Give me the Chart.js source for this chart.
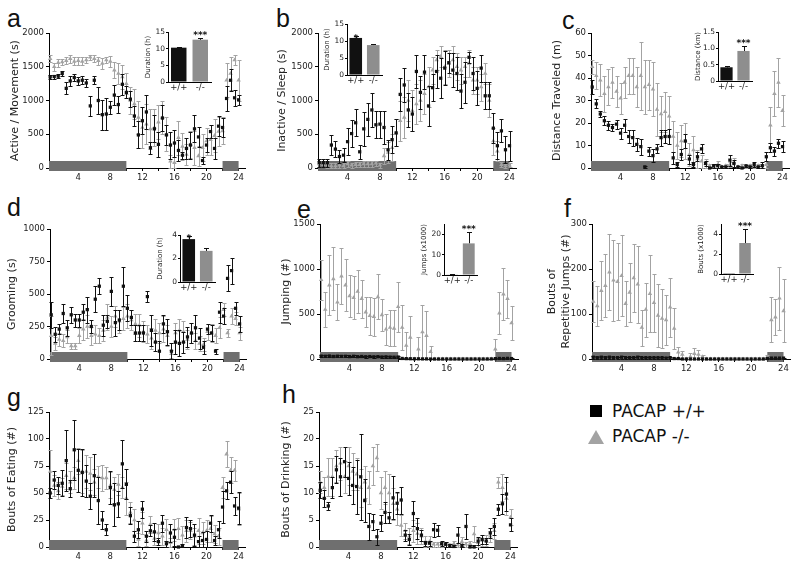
<!DOCTYPE html>
<html>
<head>
<meta charset="utf-8">
<script src="https://cdn.jsdelivr.net/npm/chart.js@4.4.1/dist/chart.umd.min.js"></script>
<style>
  body { margin: 0; width: 800px; height: 567px; position: relative; overflow: hidden; background: #fff; font-family: "DejaVu Sans", sans-serif; }
  .box { position: absolute; }
  .letter { position: absolute; font-family: "Liberation Sans", sans-serif; font-size: 25px; color: #111; line-height: 1; }
  .leg { position: absolute; font-size: 17px; color: #111; line-height: 1; }
</style>
</head>
<body>
<div class="letter" style="left:7px;top:6px">a</div>
<div class="letter" style="left:276px;top:6px">b</div>
<div class="letter" style="left:562px;top:8px">c</div>
<div class="letter" style="left:7px;top:195px">d</div>
<div class="letter" style="left:297px;top:197px">e</div>
<div class="letter" style="left:564px;top:196px">f</div>
<div class="letter" style="left:7px;top:385px">g</div>
<div class="letter" style="left:282px;top:382px">h</div>

<div style="position:absolute;left:590px;top:405px;width:12px;height:12px;background:#000"></div>
<div class="leg" style="left:612px;top:403px">PACAP +/+</div>
<div style="position:absolute;left:588px;top:430px;width:0;height:0;border-left:8px solid transparent;border-right:8px solid transparent;border-bottom:14px solid #a3a3a3"></div>
<div class="leg" style="left:612px;top:428px">PACAP -/-</div>

<script>
// half-hour bins
const HOURS = [0.5,1,1.5,2,2.5,3,3.5,4,4.5,5,5.5,6,6.5,7,7.5,8,8.5,9,9.5,10,10.5,11,11.5,12,
  12.5,13,13.5,14,14.5,15,15.5,16,16.5,17,17.5,18,18.5,19,19.5,20,20.5,21,21.5,22,22.5,23,23.5,24];
const X_TICKS = [2,4,6,8,10,12,14,16,18,20,22,24];
const DARK_PHASES = [[0,10],[22,24]];
const GENOTYPES = ['+/+', '-/-'];

// a - active / movement (s)
const A_WT = [1350,1355,1360,1400,1180,1290,1340,1290,1300,1260,920,1300,1000,790,800,900,1080,940,1240,1120,1020,770,490,700,830,300,580,350,740,490,340,370,260,190,290,340,580,460,110,340,540,290,620,600,1030,1300,1040,1010];
const A_WT_SEM = [30,30,30,30,90,80,50,60,60,60,150,60,200,220,230,100,150,130,160,90,120,150,200,200,250,90,200,190,190,150,200,200,160,50,150,200,200,150,50,100,100,150,150,140,180,160,120,70];
const A_KO = [1620,1500,1560,1570,1590,1620,1580,1590,1580,1600,1640,1620,1590,1550,1600,1580,1450,1400,1350,1250,1000,950,750,600,650,580,600,680,750,500,100,80,450,320,200,350,300,180,300,400,420,480,540,550,1300,1400,1600,1300];
const A_KO_SEM = [50,60,60,50,50,60,60,60,60,40,40,50,60,80,50,80,120,150,180,160,200,220,250,300,300,300,280,250,250,250,100,80,250,200,150,200,250,150,200,200,220,250,220,200,250,250,80,300];
const A_Y_TICKS = [0,500,1000,1500,2000];

// b - inactive / sleep (s)
const B_WT = [80,80,80,340,280,170,190,390,510,670,240,580,720,860,640,650,600,270,420,520,1090,1230,860,800,1430,1120,1420,920,1190,1430,1330,1480,1560,1450,1400,1140,1270,1640,1400,1180,1480,1070,1070,590,330,550,270,330];
const B_WT_SEM = [60,60,60,150,120,100,100,200,200,200,100,250,250,250,200,200,250,150,200,200,250,250,250,250,250,250,250,300,200,250,300,250,150,250,250,250,300,80,250,250,200,200,200,220,200,170,200,220];
const B_KO = [60,50,40,30,30,40,30,60,40,50,50,60,60,60,70,40,180,230,300,520,700,750,1000,850,950,1000,1100,1200,1450,1600,1650,1500,1550,1600,1500,1450,1500,1550,1300,1300,1200,1400,1000,400,250,50,30,40];
const B_KO_SEM = [40,40,40,40,40,40,40,40,40,40,40,40,40,40,40,40,120,150,200,200,300,300,300,300,300,300,300,300,200,150,150,250,200,200,200,200,150,200,200,200,200,150,250,200,150,40,30,30];
const B_Y_TICKS = [0,500,1000,1500,2000];

// c - distance traveled (m)
const C_WT = [36,28.5,24,21,19,18,19.5,15.5,19,14,13.5,10.5,9.5,0.5,7.5,5.5,8.5,13.5,14,14,4.5,1.5,6,12,4,1.5,5,8.5,2,0,1,1,0.5,0.5,3.5,2,0.5,0,1,0.5,1.5,0.5,1,5,9,7.5,11,9.5];
const C_WT_SEM = [3,2,1.5,2,2,1.5,2,2.5,3,3,3.5,3,3.5,0.5,2,3,2,3.5,3,3.5,2.5,1,2.5,3,2,1,2,2,1,0.5,1,1,0.5,0.5,2.5,1.5,0.5,0.5,0.5,0.5,1,0.5,1.5,2,2,2,2,2.5];
const C_KO = [45,41,39,33,36,38,34,31,38,41,41,36,41,36,37,35,26,24,25,23,14,10,12,12,6,8,4,3,2,1,0.5,1.5,0.5,1,1.5,2.5,0.5,1,0.5,1,0.5,1,1,1.5,19,33,38,25.5];
const C_KO_SEM = [3,6,7,8,8,7,7,7,7,8,8,9,15,12,11,12,12,8,9,9,7,6,7,8,5,6,4,3,2,1,1,1.5,0.5,1,1,2,0.5,1,0.5,1,0.5,1,1,1.5,8,10,11,7];
const C_Y_TICKS = [0,10,20,30,40,50,60];

// d - grooming (s)
const D_WT = [340,190,230,350,240,340,300,300,360,380,250,460,560,260,290,520,280,300,560,390,320,200,200,200,480,220,130,60,270,210,60,130,120,130,170,200,240,160,90,230,200,60,360,330,620,680,390,270];
const D_WT_SEM = [100,60,40,70,60,60,50,50,60,100,50,100,60,80,50,110,100,80,150,100,60,60,60,60,40,120,70,80,70,100,60,90,100,80,80,80,100,80,50,40,60,20,80,60,100,100,50,60];
const D_KO = [180,120,150,140,170,100,100,180,230,250,180,190,180,220,320,250,330,290,310,330,300,270,260,210,190,160,220,200,230,180,40,200,220,210,150,200,140,120,110,210,200,180,240,380,200,330,310,200];
const D_KO_SEM = [150,50,50,50,50,20,20,60,80,90,70,70,60,80,100,80,80,90,90,90,80,80,90,80,70,80,90,80,100,80,30,80,90,80,70,80,60,60,50,60,70,60,80,50,30,60,50,50];
const D_Y_TICKS = [0,250,500,750,1000];

// e - jumping (#)
const E_WT = [32,30,33,28,31,29,30,27,30,26,28,25,27,24,26,22,24,21,20,22,6,4,3,2,2,1,1,0,0,0,0,0,0,0,0,0,0,0,0,0,0,0,1,4,6,5,7,5];
const E_WT_SEM = [12,10,12,10,11,10,10,9,10,9,10,9,9,8,9,8,8,7,7,8,4,3,2,2,2,1,1,0,0,0,0,0,0,0,0,0,0,0,0,0,0,0,1,3,4,4,5,4];
const E_KO = [880,550,820,890,630,920,820,700,680,750,670,520,480,470,690,490,330,350,340,580,350,150,240,0,110,300,260,80,0,0,0,0,0,0,0,0,0,0,0,0,0,0,0,110,510,720,670,400];
const E_KO_SEM = [220,190,330,350,200,310,290,230,240,240,210,170,210,210,250,180,170,200,200,280,250,150,240,0,130,300,270,70,0,0,0,0,0,0,0,0,0,0,0,0,0,0,0,110,230,290,210,190];
const E_Y_TICKS = [0,500,1000,1500];

// f - bouts of repetitive jumps (#)
const F_WT = [4,3,4,3,4,3,3,4,3,3,3,4,3,3,3,3,3,3,2,3,1,1,0,0,0,0,0,0,0,0,0,0,0,0,0,0,0,0,0,0,0,0,0,1,2,2,2,2];
const F_WT_SEM = [3,2,3,2,3,2,2,3,2,2,2,3,2,2,2,2,2,2,2,2,1,1,0,0,0,0,0,0,0,0,0,0,0,0,0,0,0,0,0,0,0,0,0,1,1,1,1,1];
const F_KO = [128,118,152,163,193,175,172,185,123,148,180,166,70,110,145,125,97,90,87,115,68,15,10,0,5,12,10,5,0,0,0,0,0,0,0,0,0,0,0,0,0,0,0,5,87,93,135,107];
const F_KO_SEM = [45,45,65,70,85,90,85,90,50,65,75,85,40,60,85,65,70,65,55,65,45,12,8,0,8,12,10,5,0,0,0,0,0,0,0,0,0,0,0,0,0,0,0,5,50,40,70,70];
const F_Y_TICKS = [0,100,200,300];

// g - bouts of eating (#)
const G_WT = [50,62,57,59,80,54,90,71,69,61,47,66,43,25,16,55,39,40,77,58,29,10,16,35,10,15,14,5,22,3,13,9,0,1,18,17,11,5,6,7,22,6,16,37,52,60,38,36];
const G_WT_SEM = [5,8,8,12,28,8,28,20,22,15,12,20,22,8,5,15,20,12,22,14,8,5,8,8,5,5,8,3,8,3,8,8,1,2,10,8,10,5,8,8,8,4,8,15,8,10,8,15];
const G_KO = [70,57,52,56,66,60,64,80,70,70,68,60,65,64,64,57,53,58,55,45,32,25,7,22,6,21,8,13,10,16,4,16,17,11,15,15,10,15,13,15,17,12,10,55,86,71,71,35];
const G_KO_SEM = [20,10,8,8,12,10,10,12,20,15,15,12,10,12,10,12,12,10,10,15,10,10,6,10,5,8,6,8,8,10,4,10,10,8,10,8,8,12,10,10,12,8,8,10,12,12,10,15];
const G_Y_TICKS = [0,25,50,75,100,125];

// h - bouts of drinking (#)
const H_WT = [10.5,9,7.6,11,14.3,13,15.8,12.7,11.4,11.2,13,8.6,3.8,4.7,1.9,4.4,6.4,5.4,9.1,8.1,8.7,2.2,1.4,6.2,3.4,2.2,0.7,0.7,3.2,3.1,0.6,0.5,0.3,0.1,2.2,0.3,3.8,0,0,1.1,1.4,1.1,2.6,3.8,7,8,9.8,4.1];
const H_WT_SEM = [1.5,1.5,0.8,2,2.5,3.5,2.8,3,3.5,5,8,4,2.5,1.5,1.5,1.5,2,1,4,2,2.5,1,1,2.3,2,1,0.5,0.5,1.3,1,0.5,0.5,0.3,0.2,1.5,0.3,2.4,0.3,0.3,0.8,0.8,0.6,1,1.5,1,1.8,3.2,1.2];
const H_KO = [12,11,13,13,15,15.5,13,15,14,13.5,11,12,11,15,16.5,10,11,10,8,7,4,3,2,3,2.5,2,1,1,0.5,0.5,0.5,0.5,0.2,0.6,0.4,1,0.5,0.6,2.4,0.8,1.2,1.2,2,3,12,11,9,5.5];
const H_KO_SEM = [2,2,3.5,3.5,3,3,3,3.5,3.5,3,3.5,3,3,3.5,2.5,3,3,3.5,3,3,2,1.5,1.5,2,2,1.5,1,1,0.5,0.5,0.5,0.5,0.3,0.5,0.4,0.8,0.5,0.5,1.5,0.8,1,1,1,1.5,1,2.5,3,1.5];
const H_Y_TICKS = [0,5,10,15,20,25];

// insets (totals)
const INSET_A = [10.3, 12.7], INSET_A_SEM = [0.2, 0.4], INSET_A_SIG = ['', '***'];
const INSET_B = [10.9, 8.8], INSET_B_SEM = [0.6, 0.3], INSET_B_SIG = ['*', ''];
const INSET_C = [0.42, 0.92], INSET_C_SEM = [0.04, 0.15], INSET_C_SIG = ['', '***'];
const INSET_D = [3.65, 2.65], INSET_D_SEM = [0.25, 0.25], INSET_D_SIG = ['*', ''];
const INSET_E = [0.2, 15.5], INSET_E_SEM = [0.1, 5.5], INSET_E_SIG = ['', '***'];
const INSET_F = [0.02, 3.1], INSET_F_SEM = [0.01, 1.4], INSET_F_SIG = ['', '***'];

const BLACK = '#111111';
const GRAY = '#a3a3a3';
const BAR_GRAY = '#8e8e8e';
const BAND = '#6f6f6f';

Chart.defaults.font.family = '"DejaVu Sans", sans-serif';
Chart.defaults.color = '#222';
Chart.defaults.animation = false;
Chart.defaults.plugins.legend.display = false;
Chart.defaults.plugins.tooltip.enabled = false;

function makeCanvas(left, top, w, h) {
  const div = document.createElement('div');
  div.className = 'box';
  div.style.left = left + 'px';
  div.style.top = top + 'px';
  const cv = document.createElement('canvas');
  cv.width = Math.round(w);
  cv.height = Math.round(h);
  cv.style.width = Math.round(w) + 'px';
  cv.style.height = Math.round(h) + 'px';
  div.appendChild(cv);
  document.body.appendChild(div);
  return cv.getContext('2d');
}

const errorBars = {
  id: 'errorBars',
  beforeDatasetDraw(chart, args) {
    const ds = chart.data.datasets[args.index];
    if (!ds.err) return;
    const ctx = chart.ctx, y = chart.scales.y;
    ctx.save();
    ctx.strokeStyle = ds.errColor;
    ctx.lineWidth = 1;
    args.meta.data.forEach((el, i) => {
      const d = ds.data[i];
      const v = typeof d === 'object' ? d.y : d;
      const e = ds.err[i];
      if (!e) return;
      const px = Math.round(el.x) + 0.5;
      const yt = Math.round(y.getPixelForValue(v + e)) + 0.5;
      const yb = Math.round(y.getPixelForValue(Math.max(0, v - (ds.oneSided ? 0 : e)))) + 0.5;
      const c = ds.cap;
      ctx.beginPath();
      ctx.moveTo(px, yt); ctx.lineTo(px, yb);
      ctx.moveTo(px - c, yt); ctx.lineTo(px + c, yt);
      if (!ds.oneSided) { ctx.moveTo(px - c, yb); ctx.lineTo(px + c, yb); }
      ctx.stroke();
    });
    ctx.restore();
  }
};

const darkBands = {
  id: 'darkBands',
  beforeDatasetsDraw(chart, args, opts) {
    if (!opts.phases) return;
    const {ctx, scales: {x, y}} = chart;
    const y0 = y.getPixelForValue(0);
    ctx.save();
    ctx.fillStyle = BAND;
    opts.phases.forEach(([a, b]) => {
      const x0 = Math.max(x.left, x.getPixelForValue(a));
      const x1 = x.getPixelForValue(b);
      ctx.fillRect(x0, y0 - 7, x1 - x0, 10);
    });
    ctx.restore();
  }
};

const sigStars = {
  id: 'sigStars',
  afterDatasetsDraw(chart, args, opts) {
    if (!opts.labels) return;
    const ctx = chart.ctx, y = chart.scales.y;
    const ds = chart.data.datasets[0];
    const meta = chart.getDatasetMeta(0);
    ctx.save();
    ctx.fillStyle = '#111';
    ctx.font = 'bold 9px "DejaVu Sans"';
    ctx.textAlign = 'center';
    ctx.textBaseline = 'alphabetic';
    opts.labels.forEach((s, i) => {
      if (!s) return;
      const top = y.getPixelForValue(ds.data[i] + ds.err[i]);
      ctx.fillText(s, meta.data[i].x, top + (s === '*' ? 5 : 0));
    });
    ctx.restore();
  }
};

function toPoints(vals) {
  return HOURS.map((h, i) => ({x: h, y: vals[i]}));
}

function timePanel(p) {
  const padL = p.titleGap + 9, padT = 10, padR = 14, padB = 22;
  const w = p.right - p.left, h = p.bottom - p.top;
  const ctx = makeCanvas(p.left - padL, p.top - padT, w + padL + padR, h + padT + padB);
  const ymax = p.yTicks[p.yTicks.length - 1];
  new Chart(ctx, {
    type: 'scatter',
    data: {
      datasets: [
        { label: 'PACAP +/+', data: toPoints(p.wt), err: p.wtSem, errColor: BLACK, cap: 2,
          pointStyle: 'rect', pointRadius: 2.3, backgroundColor: BLACK, borderColor: BLACK, borderWidth: 0, clip: false },
        { label: 'PACAP -/-', data: toPoints(p.ko), err: p.koSem, errColor: GRAY, cap: 2,
          pointStyle: 'triangle', pointRadius: 2.6, backgroundColor: GRAY, borderColor: GRAY, borderWidth: 0, clip: false }
      ]
    },
    options: {
      responsive: false,
      layout: { padding: { left: 0, top: padT, right: padR, bottom: 0 } },
      scales: {
        x: {
          type: 'linear', min: 0.35, max: p.xmax,
          afterBuildTicks: s => { s.ticks = X_TICKS.map(v => ({value: v})); },
          afterFit: s => { s.height = padB; },
          ticks: { font: { size: 8.5 }, color: '#222', padding: 2, maxRotation: 0, autoSkip: false,
                   callback: v => (v % 4 === 0 ? String(v) : '') },
          grid: { display: true, drawOnChartArea: false, drawTicks: true, tickLength: 3, color: '#000' },
          border: { display: true, color: '#000', width: 1 }
        },
        y: {
          min: 0, max: ymax,
          afterBuildTicks: s => { s.ticks = p.yTicks.map(v => ({value: v})); },
          afterFit: s => { s.width = padL; },
          ticks: { font: { size: 8.5 }, color: '#222', padding: 2, callback: v => String(v) },
          grid: { display: true, drawOnChartArea: false, drawTicks: true, tickLength: 3, color: '#000' },
          border: { display: true, color: '#000', width: 1 },
          title: { display: true, text: p.title, font: { size: 11 }, color: '#222',
                   padding: { top: 2, bottom: 0 } }
        }
      },
      plugins: { darkBands: { phases: DARK_PHASES } }
    },
    plugins: [darkBands, errorBars]
  });
}

function insetPanel(p) {
  const padL = 24, padT = 10, padR = 4, padB = 13;
  const w = p.right - p.left, h = p.bottom - p.top;
  const ctx = makeCanvas(p.left - padL, p.top - padT, w + padL + padR, h + padT + padB);
  new Chart(ctx, {
    type: 'bar',
    data: {
      labels: GENOTYPES,
      datasets: [{ data: p.vals, err: p.sem, errColor: '#111', cap: 2.5, oneSided: true,
                   backgroundColor: [BLACK, BAR_GRAY], barPercentage: 0.72, categoryPercentage: 1 }]
    },
    options: {
      responsive: false,
      layout: { padding: { left: 0, top: padT, right: padR, bottom: 0 } },
      scales: {
        x: {
          afterFit: s => { s.height = padB; },
          ticks: { font: { size: 8.5 }, color: '#222', padding: 1, maxRotation: 0, minRotation: 0, autoSkip: false },
          grid: { display: false, drawTicks: false },
          border: { display: true, color: '#000', width: 1 }
        },
        y: {
          min: 0, max: p.yMax,
          afterBuildTicks: s => { s.ticks = p.yTicks.map(v => ({value: v})); },
          afterFit: s => { s.width = padL; },
          ticks: { font: { size: 7.5 }, color: '#222', padding: 1, callback: p.fmt || (v => String(v)) },
          grid: { display: true, drawOnChartArea: false, drawTicks: true, tickLength: 2, color: '#000' },
          border: { display: true, color: '#000', width: 1 },
          title: { display: true, text: p.title, font: { size: 7 }, color: '#222', padding: { top: 0, bottom: 0 } }
        }
      },
      plugins: { sigStars: { labels: p.sig } }
    },
    plugins: [errorBars, sigStars]
  });
}

const PANELS = [
  { left: 49.3, right: 245, top: 33, bottom: 167.7, xmax: 24.8, titleGap: 33, title: 'Active / Movement (s)', wt: A_WT, wtSem: A_WT_SEM, ko: A_KO, koSem: A_KO_SEM, yTicks: A_Y_TICKS },
  { left: 318, right: 516, top: 33, bottom: 167.7, xmax: 24.8, titleGap: 35, title: 'Inactive / Sleep (s)', wt: B_WT, wtSem: B_WT_SEM, ko: B_KO, koSem: B_KO_SEM, yTicks: B_Y_TICKS },
  { left: 591, right: 789, top: 33, bottom: 167.7, xmax: 24.8, titleGap: 33, title: 'Distance Traveled (m)', wt: C_WT, wtSem: C_WT_SEM, ko: C_KO, koSem: C_KO_SEM, yTicks: C_Y_TICKS },
  { left: 49.5, right: 245, top: 229, bottom: 359, xmax: 24.8, titleGap: 37, title: 'Grooming (s)', wt: D_WT, wtSem: D_WT_SEM, ko: D_KO, koSem: D_KO_SEM, yTicks: D_Y_TICKS },
  { left: 320, right: 518, top: 224.3, bottom: 359, xmax: 24.8, titleGap: 33, title: 'Jumping (#)', wt: E_WT, wtSem: E_WT_SEM, ko: E_KO, koSem: E_KO_SEM, yTicks: E_Y_TICKS },
  { left: 591.5, right: 789.5, top: 224.3, bottom: 359, xmax: 24.8, titleGap: 39, title: ['Bouts of', 'Repetitive Jumps (#)'], wt: F_WT, wtSem: F_WT_SEM, ko: F_KO, koSem: F_KO_SEM, yTicks: F_Y_TICKS },
  { left: 49, right: 245, top: 412, bottom: 546.7, xmax: 24.8, titleGap: 36, title: 'Bouts of Eating (#)', wt: G_WT, wtSem: G_WT_SEM, ko: G_KO, koSem: G_KO_SEM, yTicks: G_Y_TICKS },
  { left: 319, right: 517, top: 412, bottom: 546.7, xmax: 24.8, titleGap: 32, title: 'Bouts of Drinking (#)', wt: H_WT, wtSem: H_WT_SEM, ko: H_KO, koSem: H_KO_SEM, yTicks: H_Y_TICKS }
];
PANELS.forEach(timePanel);

const INSETS = [
  { left: 168, right: 211, top: 32, bottom: 82, title: 'Duration (h)', vals: INSET_A, sem: INSET_A_SEM, sig: INSET_A_SIG, yMax: 15, yTicks: [0,5,10,15] },
  { left: 347, right: 382, top: 24, bottom: 75, title: 'Duration (h)', vals: INSET_B, sem: INSET_B_SEM, sig: INSET_B_SIG, yMax: 15, yTicks: [0,5,10,15] },
  { left: 718, right: 752, top: 32, bottom: 81, title: 'Distance (km)', vals: INSET_C, sem: INSET_C_SEM, sig: INSET_C_SIG, yMax: 1.5, yTicks: [0,0.5,1,1.5], fmt: v => (v === 0 ? '0' : v.toFixed(1)) },
  { left: 180, right: 215, top: 235, bottom: 281.7, title: 'Duration (h)', vals: INSET_D, sem: INSET_D_SEM, sig: INSET_D_SIG, yMax: 4, yTicks: [0,2,4] },
  { left: 444, right: 477, top: 224, bottom: 275, title: 'Jumps (x1000)', vals: INSET_E, sem: INSET_E_SEM, sig: INSET_E_SIG, yMax: 25, yTicks: [0,10,20] },
  { left: 721, right: 753, top: 224, bottom: 274, title: 'Bouts (x1000)', vals: INSET_F, sem: INSET_F_SEM, sig: INSET_F_SIG, yMax: 5, yTicks: [0,2,4] }
];
INSETS.forEach(insetPanel);
</script>
</body>
</html>
